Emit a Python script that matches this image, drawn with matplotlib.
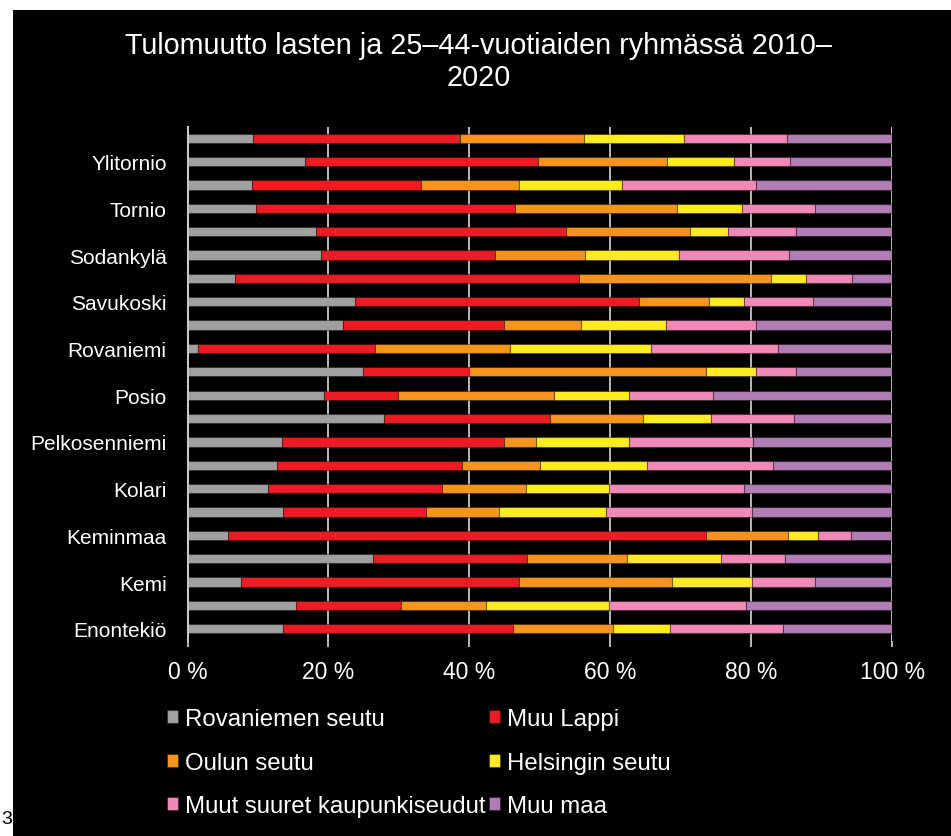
import matplotlib.pyplot as plt
import numpy as np
from matplotlib.patches import Rectangle

plt.rcParams['font.family'] = ['Liberation Sans', 'DejaVu Sans']

# municipalities, bottom bar first (labels shown only on every second bar)
kunnat = ['Enontekiö', 'Inari', 'Kemi', 'Kemijärvi', 'Keminmaa', 'Kittilä',
          'Kolari', 'Muonio', 'Pelkosenniemi', 'Pello', 'Posio', 'Ranua',
          'Rovaniemi', 'Salla', 'Savukoski', 'Simo', 'Sodankylä', 'Tervola',
          'Tornio', 'Utsjoki', 'Ylitornio', 'Lappi']

# shares of in-migration by origin region (%)
rovaniemen_seutu = [13.5, 15.4, 7.6, 26.3, 5.8, 13.5, 11.4, 12.7, 13.4, 27.9, 19.3,
                    24.9, 1.5, 22.0, 23.8, 6.7, 18.9, 18.3, 9.7, 9.2, 16.7, 9.3]
muu_lappi = [32.7, 14.9, 39.4, 21.9, 67.7, 20.4, 24.7, 26.2, 31.5, 23.6, 10.5,
             15.0, 25.1, 22.9, 40.3, 48.8, 24.8, 35.4, 36.8, 23.9, 33.0, 29.4]
oulun_seutu = [14.2, 12.0, 21.7, 14.1, 11.7, 10.3, 11.9, 11.1, 4.5, 13.1, 22.2,
               33.6, 19.2, 10.9, 9.9, 27.3, 12.7, 17.6, 22.9, 14.0, 18.4, 17.6]
helsingin_seutu = [8.0, 17.5, 11.4, 13.4, 4.2, 15.2, 11.8, 15.2, 13.2, 9.7, 10.7,
                   7.2, 19.9, 12.1, 5.0, 4.9, 13.3, 5.4, 9.3, 14.6, 9.4, 14.2]
muut_kaupunkiseudut = [16.1, 19.5, 9.0, 9.1, 4.7, 20.7, 19.2, 17.9, 17.6, 11.7, 11.9,
                       5.7, 18.1, 12.8, 9.8, 6.6, 15.6, 9.6, 10.4, 18.9, 8.0, 14.5]
muu_maa = [15.5, 20.7, 10.9, 15.2, 5.9, 19.9, 21.0, 16.9, 19.8, 14.0, 25.4,
           13.6, 16.2, 19.3, 11.2, 5.7, 14.7, 13.7, 10.9, 19.4, 14.5, 15.0]

series = [rovaniemen_seutu, muu_lappi, oulun_seutu, helsingin_seutu,
          muut_kaupunkiseudut, muu_maa]
names = ['Rovaniemen seutu', 'Muu Lappi', 'Oulun seutu', 'Helsingin seutu',
         'Muut suuret kaupunkiseudut', 'Muu maa']
colors = ['#a0a0a0', '#ed1c24', '#f7941d', '#ffeb22', '#f189b8', '#b27db4']

fig = plt.figure(figsize=(9.51, 8.37), dpi=100)
fig.patch.set_facecolor('white')
# black slide background, thin white margin on the left and top
fig.add_artist(Rectangle((13 / 951, 0), 1, 1 - 11 / 837, transform=fig.transFigure,
                         facecolor='black', edgecolor='none', zorder=-10))

ax = fig.add_axes([187.5 / 951, 1 - 641.5 / 837, 704.8 / 951, 514 / 837])
ax.set_facecolor('black')

y = np.arange(len(kunnat))
left = np.zeros(len(kunnat))
bars = []
for vals, name, col in zip(series, names, colors):
    b = ax.barh(y, vals, left=left, height=0.4, color=col,
                edgecolor=(0, 0, 0, 0.35), linewidth=0.8, label=name)
    left += np.array(vals)
    bars.append(b)

ax.set_xlim(0, 100)
ax.set_ylim(-0.5, len(kunnat) - 0.5)
ax.set_xticks(range(0, 101, 20))
ax.set_xticklabels([f'{v} %' for v in range(0, 101, 20)])
ax.set_yticks(y[::2])
ax.set_yticklabels(kunnat[::2])

ax.xaxis.grid(True, color='#c8c8c8', lw=1.3)
ax.set_axisbelow(True)
for s in ['top', 'right', 'bottom']:
    ax.spines[s].set_visible(False)
ax.spines['left'].set_color('#c8c8c8')
ax.spines['left'].set_linewidth(1.5)

ax.tick_params(axis='x', colors='#c8c8c8', labelcolor='white', length=4,
               width=1.3, pad=10, labelsize=16.5)
ax.tick_params(axis='y', length=0, pad=15, labelcolor='white', labelsize=15)

fig.text(0.503, 1 - 62 / 837,
         'Tulomuutto lasten ja 25–44-vuotiaiden ryhmässä 2010–\n2020',
         ha='center', va='center', multialignment='center',
         color='white', fontsize=20.7, linespacing=1.2)

# legend laid out row by row like the original (two columns)
order = [0, 2, 4, 1, 3, 5]
fig.legend(handles=[bars[i] for i in order], labels=[names[i] for i in order],
           loc='upper left', bbox_to_anchor=(167 / 951, 1 - 709 / 837),
           ncol=2, frameon=False, fontsize=17.3, labelcolor='white',
           handlelength=0.45, handleheight=0.45, handletextpad=0.3,
           columnspacing=0.15, labelspacing=0.9, borderpad=0, borderaxespad=0)

# page number at the left edge
fig.text(0.001, 1 - 820 / 837, '3', fontsize=14, color='black', va='center')

fig.savefig('out.png', dpi=100, facecolor=fig.get_facecolor())
